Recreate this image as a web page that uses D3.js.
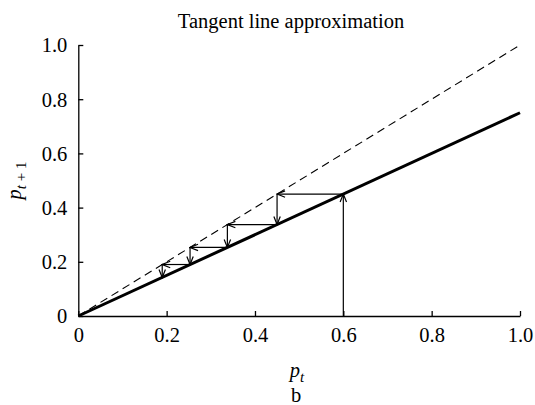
<!DOCTYPE html>
<html>
<head>
<meta charset="utf-8">
<script src="https://cdn.jsdelivr.net/npm/d3@7"></script>
<style>
  html, body { margin: 0; padding: 0; background: #fff; }
  svg text { font-family: "Liberation Serif", "Times New Roman", serif; fill: #000; }
</style>
</head>
<body>
<svg id="chart" width="535" height="405"></svg>
<script>
// Axis ticks
const xTicks = [0, 0.2, 0.4, 0.6, 0.8, 1.0];
const yTicks = [0, 0.2, 0.4, 0.6, 0.8, 1.0];

// Identity line p_{t+1} = p_t (dashed)
const identityLine = [[0, 0], [1, 1]];
// Tangent line approximation (slope 0.75)
const tangentLine = [[0, 0], [1, 0.75]];

// Successive iterates p_0, p_1, ... along the tangent line
const iterates = [0.6, 0.45, 0.3375, 0.253, 0.19, 0.142];

const serif = "'Liberation Serif', 'Times New Roman', serif";
const fontSize = 20.5;

const svg = d3.select("#chart");
const x = d3.scaleLinear().domain([0, 1]).range([78.3, 520]);
const y = d3.scaleLinear().domain([0, 1]).range([316, 45]);

const fmt = d => d === 0 ? "0" : d3.format(".1f")(d);

// Arrowhead marker (open V)
svg.append("defs").append("marker")
  .attr("id", "arrow")
  .attr("viewBox", "-9 -5 10 10")
  .attr("refX", 0).attr("refY", 0)
  .attr("markerWidth", 10).attr("markerHeight", 10)
  .attr("markerUnits", "userSpaceOnUse")
  .attr("orient", "auto")
  .append("path")
  .attr("d", "M-8,-3.2 L0,0 L-8,3.2")
  .attr("fill", "none")
  .attr("stroke", "#000")
  .attr("stroke-width", 1.2);

// Axes
const xAxis = d3.axisBottom(x).tickValues(xTicks).tickFormat(fmt)
  .tickSizeInner(-5).tickSizeOuter(0).tickPadding(11);
const yAxis = d3.axisLeft(y).tickValues(yTicks).tickFormat(fmt)
  .tickSizeInner(-5).tickSizeOuter(0).tickPadding(11);

const gx = svg.append("g").attr("transform", `translate(0,${y(0)})`).call(xAxis);
const gy = svg.append("g").attr("transform", `translate(${x(0)},0)`).call(yAxis);
[gx, gy].forEach(g => {
  g.attr("font-family", null).attr("font-size", null);
  g.select(".domain").attr("stroke", "#000").attr("stroke-width", 1.3);
  g.selectAll(".tick line").attr("stroke", "#000").attr("stroke-width", 1.3);
  g.selectAll(".tick text")
    .style("font-family", serif).style("font-size", fontSize + "px");
});
gx.selectAll(".tick text").attr("dy", "0.71em");
gy.selectAll(".tick text").attr("dy", "0.34em");

const line = d3.line().x(d => x(d[0])).y(d => y(d[1]));

svg.append("path").datum(identityLine)
  .attr("d", line).attr("fill", "none")
  .attr("stroke", "#000").attr("stroke-width", 1.1)
  .attr("stroke-dasharray", "8,5");

svg.append("path").datum(tangentLine)
  .attr("d", line).attr("fill", "none")
  .attr("stroke", "#000").attr("stroke-width", 3);

// Cobweb segments built from the iterates: up to the line, then
// alternate left to the diagonal and down to the line
const segments = [[[iterates[0], 0], [iterates[0], iterates[1]]]];
for (let i = 1; i + 1 < iterates.length; i++) {
  segments.push([[iterates[i - 1], iterates[i]], [iterates[i], iterates[i]]]);
  segments.push([[iterates[i], iterates[i]], [iterates[i], iterates[i + 1]]]);
}
svg.append("g").selectAll("path").data(segments).join("path")
  .attr("d", line).attr("fill", "none")
  .attr("stroke", "#000").attr("stroke-width", 1.2)
  .attr("marker-end", "url(#arrow)");

// Title
svg.append("text").attr("x", 291).attr("y", 28)
  .attr("text-anchor", "middle").attr("font-size", fontSize)
  .text("Tangent line approximation");

// X label p_t
const xl = svg.append("text").attr("x", 297).attr("y", 377)
  .attr("text-anchor", "middle").attr("font-size", fontSize);
xl.append("tspan").attr("font-style", "italic").text("p");
xl.append("tspan").attr("font-style", "italic").attr("font-size", 15)
  .attr("dy", 5).text("t");

// Panel letter
svg.append("text").attr("x", 296).attr("y", 402)
  .attr("text-anchor", "middle").attr("font-size", fontSize).text("b");

// Y label p_{t+1}
const yl = svg.append("text")
  .attr("transform", `translate(21,${(y(0) + y(1)) / 2}) rotate(-90)`)
  .attr("text-anchor", "middle").attr("font-size", fontSize);
yl.append("tspan").attr("font-style", "italic").text("p");
yl.append("tspan").attr("font-style", "italic").attr("font-size", 15)
  .attr("dy", 5).text("t");
yl.append("tspan").attr("font-size", 15).text(" + 1");
</script>
</body>
</html>
